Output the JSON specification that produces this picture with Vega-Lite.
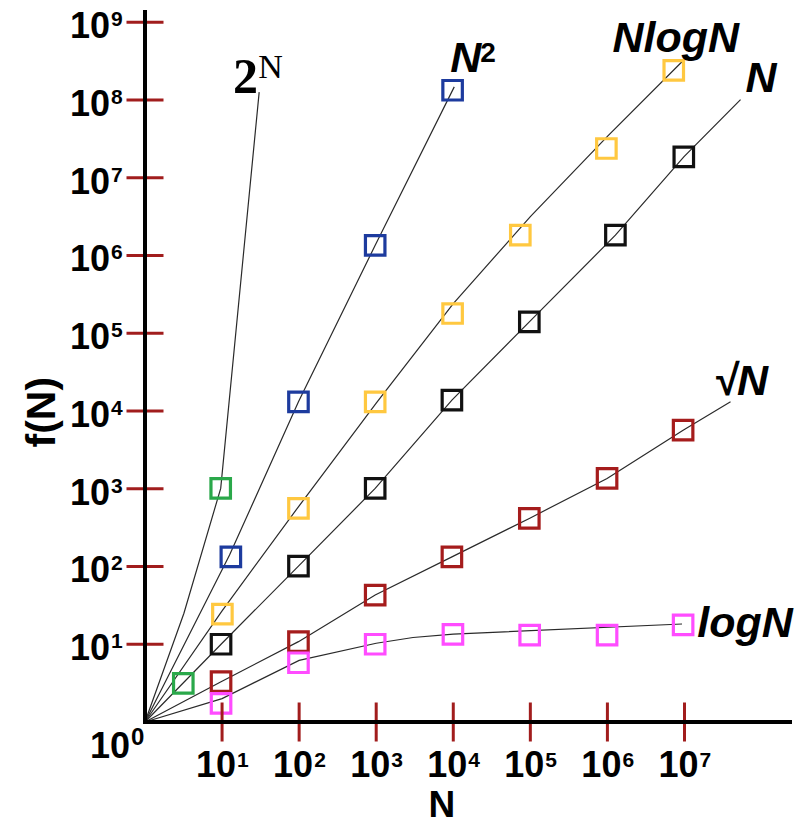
{
  "$schema": "https://vega.github.io/schema/vega-lite/v6.json",
  "width": 645,
  "height": 710,
  "autosize": {"type": "none"},
  "padding": {"left": 145, "top": 12, "right": 19, "bottom": 102},
  "background": "white",
  "config": {"view": {"stroke": null}},
  "datasets": {
    "lines": [
      {"series": "2N", "N": 1, "f": 1}, {"series": "2N", "N": 3.2, "f": 25}, {"series": "2N", "N": 9.6, "f": 1010}, {"series": "2N", "N": 30.3, "f": 126000000},
      {"series": "N2", "N": 1, "f": 1}, {"series": "N2", "N": 12.5, "f": 140}, {"series": "N2", "N": 98, "f": 13100}, {"series": "N2", "N": 970, "f": 1350000}, {"series": "N2", "N": 10300, "f": 147000000},
      {"series": "NlogN", "N": 1, "f": 1}, {"series": "NlogN", "N": 10, "f": 26.9}, {"series": "NlogN", "N": 100, "f": 603}, {"series": "NlogN", "N": 1000, "f": 12590}, {"series": "NlogN", "N": 10000, "f": 239900}, {"series": "NlogN", "N": 100000, "f": 3160000}, {"series": "NlogN", "N": 1000000, "f": 33900000}, {"series": "NlogN", "N": 10300000, "f": 343000000},
      {"series": "N", "N": 1, "f": 1}, {"series": "N", "N": 9.7, "f": 10}, {"series": "N", "N": 98, "f": 101}, {"series": "N", "N": 970, "f": 1009}, {"series": "N", "N": 9600, "f": 13800}, {"series": "N", "N": 97000, "f": 140000}, {"series": "N", "N": 1270000, "f": 1820000}, {"series": "N", "N": 9800000, "f": 18500000}, {"series": "N", "N": 53400000, "f": 101000000},
      {"series": "sqrtN", "N": 1, "f": 1}, {"series": "sqrtN", "N": 9.7, "f": 3.3}, {"series": "sqrtN", "N": 98, "f": 10.8}, {"series": "sqrtN", "N": 970, "f": 42.9}, {"series": "sqrtN", "N": 9600, "f": 133}, {"series": "sqrtN", "N": 97000, "f": 415}, {"series": "sqrtN", "N": 990000, "f": 1356}, {"series": "sqrtN", "N": 9600000, "f": 5665}, {"series": "sqrtN", "N": 39600000, "f": 13100},
      {"series": "logN", "N": 1, "f": 1}, {"series": "logN", "N": 10, "f": 2.0}, {"series": "logN", "N": 100, "f": 6.2}, {"series": "logN", "N": 1000, "f": 10.3}, {"series": "logN", "N": 3000, "f": 12.2}, {"series": "logN", "N": 10000, "f": 13.5}, {"series": "logN", "N": 9300000, "f": 18.2}
    ],
    "points": [
      {"series": "2N", "N": 3.14, "f": 3.14}, {"series": "2N", "N": 9.6, "f": 1009},
      {"series": "N2", "N": 13, "f": 133}, {"series": "N2", "N": 98, "f": 13100}, {"series": "N2", "N": 970, "f": 1350000}, {"series": "N2", "N": 9800, "f": 133000000},
      {"series": "NlogN", "N": 10.1, "f": 24.4}, {"series": "NlogN", "N": 98, "f": 558}, {"series": "NlogN", "N": 970, "f": 13100}, {"series": "NlogN", "N": 9800, "f": 179000}, {"series": "NlogN", "N": 74100, "f": 1820000}, {"series": "NlogN", "N": 970000, "f": 23700000}, {"series": "NlogN", "N": 7260000, "f": 240000000},
      {"series": "N", "N": 9.7, "f": 10}, {"series": "N", "N": 98, "f": 101}, {"series": "N", "N": 970, "f": 1009}, {"series": "N", "N": 9600, "f": 13800}, {"series": "N", "N": 97000, "f": 140000}, {"series": "N", "N": 1270000, "f": 1820000}, {"series": "N", "N": 9800000, "f": 18500000},
      {"series": "sqrtN", "N": 9.7, "f": 3.3}, {"series": "sqrtN", "N": 98, "f": 10.8}, {"series": "sqrtN", "N": 970, "f": 42.9}, {"series": "sqrtN", "N": 9600, "f": 133}, {"series": "sqrtN", "N": 97000, "f": 415}, {"series": "sqrtN", "N": 990000, "f": 1356}, {"series": "sqrtN", "N": 9600000, "f": 5665},
      {"series": "logN", "N": 9.7, "f": 1.74}, {"series": "logN", "N": 98, "f": 5.78}, {"series": "logN", "N": 970, "f": 10}, {"series": "logN", "N": 9900, "f": 13.4}, {"series": "logN", "N": 98000, "f": 13.1}, {"series": "logN", "N": 990000, "f": 13.1}, {"series": "logN", "N": 9600000, "f": 17.7}
    ],
    "xt": [
      {"N": 10, "e": "1"}, {"N": 100, "e": "2"}, {"N": 1000, "e": "3"}, {"N": 10000, "e": "4"}, {"N": 100000, "e": "5"}, {"N": 1000000, "e": "6"}, {"N": 10000000, "e": "7"}
    ],
    "yt": [
      {"f": 10, "e": "1"}, {"f": 100, "e": "2"}, {"f": 1000, "e": "3"}, {"f": 10000, "e": "4"}, {"f": 100000, "e": "5"}, {"f": 1000000, "e": "6"}, {"f": 10000000, "e": "7"}, {"f": 100000000, "e": "8"}, {"f": 1000000000, "e": "9"}
    ],
    "labels": [
      {"kind": "serif", "text": "2", "N": 13.9, "f": 122000000},
      {"kind": "serifsup", "text": "N", "N": 29.4, "f": 190000000},
      {"kind": "main", "text": "N", "N": 9140, "f": 226000000},
      {"kind": "sup", "text": "2", "N": 22400, "f": 304000000},
      {"kind": "main", "text": "NlogN", "N": 1160000, "f": 409000000},
      {"kind": "main", "text": "N", "N": 62000000, "f": 125000000},
      {"kind": "main", "text": "√N", "N": 23800000, "f": 15960},
      {"kind": "main", "text": "logN", "N": 14700000, "f": 12.4}
    ],
    "origin": [{"N": 1, "f": 1}]
  },
  "layer": [
    {
      "data": {"name": "lines"},
      "mark": {"type": "line", "color": "#2a2a2a", "strokeWidth": 1.2},
      "encoding": {
        "x": {"field": "N", "type": "quantitative", "scale": {"type": "log", "domain": [1, 234000000], "nice": false}, "axis": null},
        "y": {"field": "f", "type": "quantitative", "scale": {"type": "log", "domain": [1, 1350000000], "nice": false}, "axis": null},
        "detail": {"field": "series"}
      }
    },
    {
      "data": {"name": "points"},
      "mark": {"type": "point", "shape": "square", "filled": false, "size": 380, "strokeWidth": 3.2, "opacity": 1},
      "encoding": {
        "x": {"field": "N", "type": "quantitative", "scale": {"type": "log", "domain": [1, 234000000], "nice": false}, "axis": null},
        "y": {"field": "f", "type": "quantitative", "scale": {"type": "log", "domain": [1, 1350000000], "nice": false}, "axis": null},
        "color": {"field": "series", "type": "nominal", "legend": null,
                  "scale": {"domain": ["2N", "N2", "NlogN", "N", "sqrtN", "logN"], "range": ["#2aa84a", "#1d3b9e", "#ffc840", "#111111", "#a51c1c", "#ff4cff"]}}
      }
    },
    {
      "data": {"name": "xt"},
      "mark": {"type": "tick", "orient": "vertical", "size": 39, "thickness": 3, "color": "#a11d1d", "opacity": 1},
      "encoding": {
        "x": {"field": "N", "type": "quantitative", "scale": {"type": "log", "domain": [1, 234000000], "nice": false}, "axis": null},
        "y": {"datum": 1, "type": "quantitative", "scale": {"type": "log", "domain": [1, 1350000000], "nice": false}, "axis": null}
      }
    },
    {
      "data": {"name": "yt"},
      "mark": {"type": "tick", "orient": "horizontal", "size": 37, "thickness": 3, "color": "#a11d1d", "opacity": 1},
      "encoding": {
        "x": {"datum": 1, "type": "quantitative", "scale": {"type": "log", "domain": [1, 234000000], "nice": false}, "axis": null},
        "y": {"field": "f", "type": "quantitative", "scale": {"type": "log", "domain": [1, 1350000000], "nice": false}, "axis": null}
      }
    },
    {
      "data": {"name": "origin"},
      "mark": {"type": "rule", "color": "black", "strokeWidth": 4, "strokeCap": "square"},
      "encoding": {
        "x": {"field": "N", "type": "quantitative", "scale": {"type": "log", "domain": [1, 234000000], "nice": false}, "axis": null},
        "x2": {"datum": 234000000},
        "y": {"field": "f", "type": "quantitative", "scale": {"type": "log", "domain": [1, 1350000000], "nice": false}, "axis": null}
      }
    },
    {
      "data": {"name": "origin"},
      "mark": {"type": "rule", "color": "black", "strokeWidth": 4, "strokeCap": "square"},
      "encoding": {
        "x": {"field": "N", "type": "quantitative", "scale": {"type": "log", "domain": [1, 234000000], "nice": false}, "axis": null},
        "y": {"field": "f", "type": "quantitative", "scale": {"type": "log", "domain": [1, 1350000000], "nice": false}, "axis": null},
        "y2": {"datum": 1350000000}
      }
    },
    {
      "data": {"name": "origin"},
      "mark": {"type": "text", "text": "N", "align": "center", "baseline": "alphabetic", "dy": 95, "font": "Liberation Sans", "fontWeight": "bold", "fontSize": 37, "color": "black"},
      "encoding": {
        "x": {"datum": 7130, "type": "quantitative", "scale": {"type": "log", "domain": [1, 234000000], "nice": false}, "axis": null},
        "y": {"field": "f", "type": "quantitative", "scale": {"type": "log", "domain": [1, 1350000000], "nice": false}, "axis": null}
      }
    },
    {
      "data": {"name": "origin"},
      "mark": {"type": "text", "text": "f(N)", "angle": 270, "align": "center", "baseline": "alphabetic", "font": "Liberation Sans", "fontWeight": "bold", "fontSize": 41, "color": "black"},
      "encoding": {
        "x": {"datum": 0.0678, "type": "quantitative", "scale": {"type": "log", "domain": [1, 234000000], "nice": false}, "axis": null},
        "y": {"datum": 9650, "type": "quantitative", "scale": {"type": "log", "domain": [1, 1350000000], "nice": false}, "axis": null}
      }
    },
    {
      "data": {"name": "xt"},
      "mark": {"type": "text", "text": "10", "align": "right", "baseline": "alphabetic", "dx": 14, "dy": 55, "font": "Liberation Sans", "fontWeight": "bold", "fontSize": 36, "color": "black"},
      "encoding": {
        "x": {"field": "N", "type": "quantitative", "scale": {"type": "log", "domain": [1, 234000000], "nice": false}, "axis": null},
        "y": {"datum": 1, "type": "quantitative", "scale": {"type": "log", "domain": [1, 1350000000], "nice": false}, "axis": null}
      }
    },
    {
      "data": {"name": "xt"},
      "mark": {"type": "text", "align": "left", "baseline": "alphabetic", "dx": 15, "dy": 45, "font": "Liberation Sans", "fontWeight": "bold", "fontSize": 21, "color": "black"},
      "encoding": {
        "text": {"field": "e"},
        "x": {"field": "N", "type": "quantitative", "scale": {"type": "log", "domain": [1, 234000000], "nice": false}, "axis": null},
        "y": {"datum": 1, "type": "quantitative", "scale": {"type": "log", "domain": [1, 1350000000], "nice": false}, "axis": null}
      }
    },
    {
      "data": {"name": "yt"},
      "mark": {"type": "text", "text": "10", "align": "left", "baseline": "alphabetic", "dx": -75, "dy": 16, "font": "Liberation Sans", "fontWeight": "bold", "fontSize": 36, "color": "black"},
      "encoding": {
        "x": {"datum": 1, "type": "quantitative", "scale": {"type": "log", "domain": [1, 234000000], "nice": false}, "axis": null},
        "y": {"field": "f", "type": "quantitative", "scale": {"type": "log", "domain": [1, 1350000000], "nice": false}, "axis": null}
      }
    },
    {
      "data": {"name": "yt"},
      "mark": {"type": "text", "align": "left", "baseline": "alphabetic", "dx": -34, "dy": 4, "font": "Liberation Sans", "fontWeight": "bold", "fontSize": 21, "color": "black"},
      "encoding": {
        "text": {"field": "e"},
        "x": {"datum": 1, "type": "quantitative", "scale": {"type": "log", "domain": [1, 234000000], "nice": false}, "axis": null},
        "y": {"field": "f", "type": "quantitative", "scale": {"type": "log", "domain": [1, 1350000000], "nice": false}, "axis": null}
      }
    },
    {
      "data": {"name": "origin"},
      "mark": {"type": "text", "text": "10", "align": "left", "baseline": "alphabetic", "dx": -55, "dy": 36, "font": "Liberation Sans", "fontWeight": "bold", "fontSize": 36, "color": "black"},
      "encoding": {
        "x": {"field": "N", "type": "quantitative", "scale": {"type": "log", "domain": [1, 234000000], "nice": false}, "axis": null},
        "y": {"field": "f", "type": "quantitative", "scale": {"type": "log", "domain": [1, 1350000000], "nice": false}, "axis": null}
      }
    },
    {
      "data": {"name": "origin"},
      "mark": {"type": "text", "text": "0", "align": "left", "baseline": "alphabetic", "dx": -14, "dy": 23, "font": "Liberation Sans", "fontWeight": "bold", "fontSize": 24, "color": "black"},
      "encoding": {
        "x": {"field": "N", "type": "quantitative", "scale": {"type": "log", "domain": [1, 234000000], "nice": false}, "axis": null},
        "y": {"field": "f", "type": "quantitative", "scale": {"type": "log", "domain": [1, 1350000000], "nice": false}, "axis": null}
      }
    },
    {
      "data": {"name": "labels"},
      "transform": [{"filter": "datum.kind === 'main'"}],
      "mark": {"type": "text", "align": "left", "baseline": "alphabetic", "font": "Liberation Sans", "fontWeight": "bold", "fontStyle": "italic", "fontSize": 43, "color": "black"},
      "encoding": {
        "text": {"field": "text"},
        "x": {"field": "N", "type": "quantitative", "scale": {"type": "log", "domain": [1, 234000000], "nice": false}, "axis": null},
        "y": {"field": "f", "type": "quantitative", "scale": {"type": "log", "domain": [1, 1350000000], "nice": false}, "axis": null}
      }
    },
    {
      "data": {"name": "labels"},
      "transform": [{"filter": "datum.kind === 'sup'"}],
      "mark": {"type": "text", "align": "left", "baseline": "alphabetic", "font": "Liberation Sans", "fontWeight": "bold", "fontSize": 28, "color": "black"},
      "encoding": {
        "text": {"field": "text"},
        "x": {"field": "N", "type": "quantitative", "scale": {"type": "log", "domain": [1, 234000000], "nice": false}, "axis": null},
        "y": {"field": "f", "type": "quantitative", "scale": {"type": "log", "domain": [1, 1350000000], "nice": false}, "axis": null}
      }
    },
    {
      "data": {"name": "labels"},
      "transform": [{"filter": "datum.kind === 'serif'"}],
      "mark": {"type": "text", "align": "left", "baseline": "alphabetic", "font": "Liberation Serif", "fontWeight": "bold", "fontSize": 50, "color": "black"},
      "encoding": {
        "text": {"field": "text"},
        "x": {"field": "N", "type": "quantitative", "scale": {"type": "log", "domain": [1, 234000000], "nice": false}, "axis": null},
        "y": {"field": "f", "type": "quantitative", "scale": {"type": "log", "domain": [1, 1350000000], "nice": false}, "axis": null}
      }
    },
    {
      "data": {"name": "labels"},
      "transform": [{"filter": "datum.kind === 'serifsup'"}],
      "mark": {"type": "text", "align": "left", "baseline": "alphabetic", "font": "Liberation Serif", "fontWeight": "normal", "fontSize": 34, "color": "black"},
      "encoding": {
        "text": {"field": "text"},
        "x": {"field": "N", "type": "quantitative", "scale": {"type": "log", "domain": [1, 234000000], "nice": false}, "axis": null},
        "y": {"field": "f", "type": "quantitative", "scale": {"type": "log", "domain": [1, 1350000000], "nice": false}, "axis": null}
      }
    }
  ]
}
